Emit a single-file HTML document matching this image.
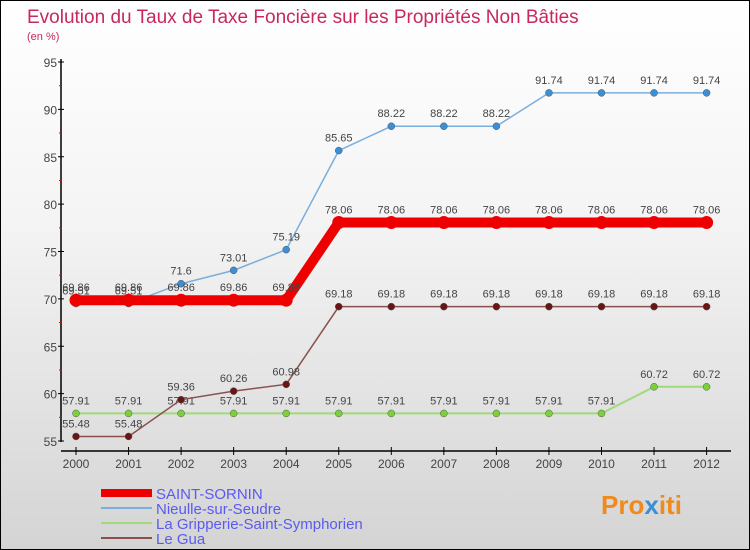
<!DOCTYPE html>
<html><head><meta charset="utf-8"><style>
body{margin:0}
#c{width:748px;height:548px;border:1px solid #000;background:linear-gradient(#fff,#f4f4f4 40%,#d4d4d4);position:relative;font-family:"Liberation Sans",sans-serif;overflow:hidden}
svg{position:absolute;left:0;top:0}
</style></head><body>
<div id="c">
<svg id="s" width="748" height="548">
<text x="26" y="22" font-size="19" fill="#c8285a">Evolution du Taux de Taxe Foncière sur les Propriétés Non Bâties</text>
<text x="26" y="39" font-size="11" fill="#c8285a">(en %)</text>
<text x="600" y="513" font-size="26" font-weight="bold" fill="#f08a1c">Pro<tspan fill="#3a8fd6">x</tspan>iti</text>
</svg>
</div>
<script>
const years=[2000,2001,2002,2003,2004,2005,2006,2007,2008,2009,2010,2011,2012];
const yTicks=[55,60,65,70,75,80,85,90,95];
const saintSornin=[69.86,69.86,69.86,69.86,69.86,78.06,78.06,78.06,78.06,78.06,78.06,78.06,78.06];
const nieulle=[69.51,69.51,71.6,73.01,75.19,85.65,88.22,88.22,88.22,91.74,91.74,91.74,91.74];
const gripperie=[57.91,57.91,57.91,57.91,57.91,57.91,57.91,57.91,57.91,57.91,57.91,60.72,60.72];
const leGua=[55.48,55.48,59.36,60.26,60.98,69.18,69.18,69.18,69.18,69.18,69.18,69.18,69.18];
const NS='http://www.w3.org/2000/svg',s=document.getElementById('s');
const X=i=>75+i*52.55, Y=v=>440-(v-55)*9.475;
function el(t,a,p){const e=document.createElementNS(NS,t);for(const k in a)e.setAttribute(k,a[k]);(p||s).appendChild(e);return e;}
// axes
let ax=el('line',{x1:60,y1:58,x2:60,y2:441,stroke:'#000','stroke-width':1.5});


let bx=el('line',{x1:60,y1:450,x2:730,y2:450,stroke:'#000','stroke-width':1.5});


yTicks.forEach(v=>{
 el('line',{x1:57,y1:Y(v),x2:63,y2:Y(v),stroke:'#000'});
 if(v<95)el('line',{x1:58,y1:Y(v+2.5),x2:61,y2:Y(v+2.5),stroke:'#e00'});
 const t=el('text',{x:56,y:Y(v)+5,'text-anchor':'end','font-size':12,fill:'#444'});t.textContent=v;
 
 
});
years.forEach((y,i)=>{
 el('line',{x1:X(i),y1:446,x2:X(i),y2:454,stroke:'#000'});
 const t=el('text',{x:X(i),y:467,'text-anchor':'middle','font-size':12,fill:'#444'});t.textContent=y;
 
 
});
function series(d,col,w,dot,name){
 const p=el('polyline',{points:d.map((v,i)=>X(i)+','+Y(v)).join(' '),fill:'none',stroke:col,'stroke-width':w});
 
 
 d.forEach((v,i)=>{
  const c=el('circle',{cx:X(i),cy:Y(v),r:w>5?6.5:3.5,fill:dot,stroke:w>5?'none':'#555','stroke-width':0.5});
  
  
  const t=el('text',{x:X(i),y:Y(v)-9,'text-anchor':'middle','font-size':11,fill:'#444'});t.textContent=v;
  
  
 });
}
series(nieulle,'#7aaedc',1.5,'#3a8fd6','nieulle');
series(gripperie,'#9edb7a',2,'#7bd13a','gripperie');
series(leGua,'#8a5050',1.5,'#6a1515','le-gua');
series(saintSornin,'#ee0000',10,'#ee0000','saint-sornin');
const leg=[['SAINT-SORNIN','#ee0000',8],['Nieulle-sur-Seudre','#7aaedc',2],['La Gripperie-Saint-Symphorien','#9edb7a',2],['Le Gua','#8a5050',2]];
leg.forEach((l,i)=>{
 const y=492+i*15;
 el('line',{x1:100,y1:y,x2:151,y2:y,stroke:l[1],'stroke-width':l[2]});
 const t=el('text',{x:155,y:y+6,'font-size':15,fill:'#5a5af0'});t.textContent=l[0];
 
 
});
</script>
</body></html>
